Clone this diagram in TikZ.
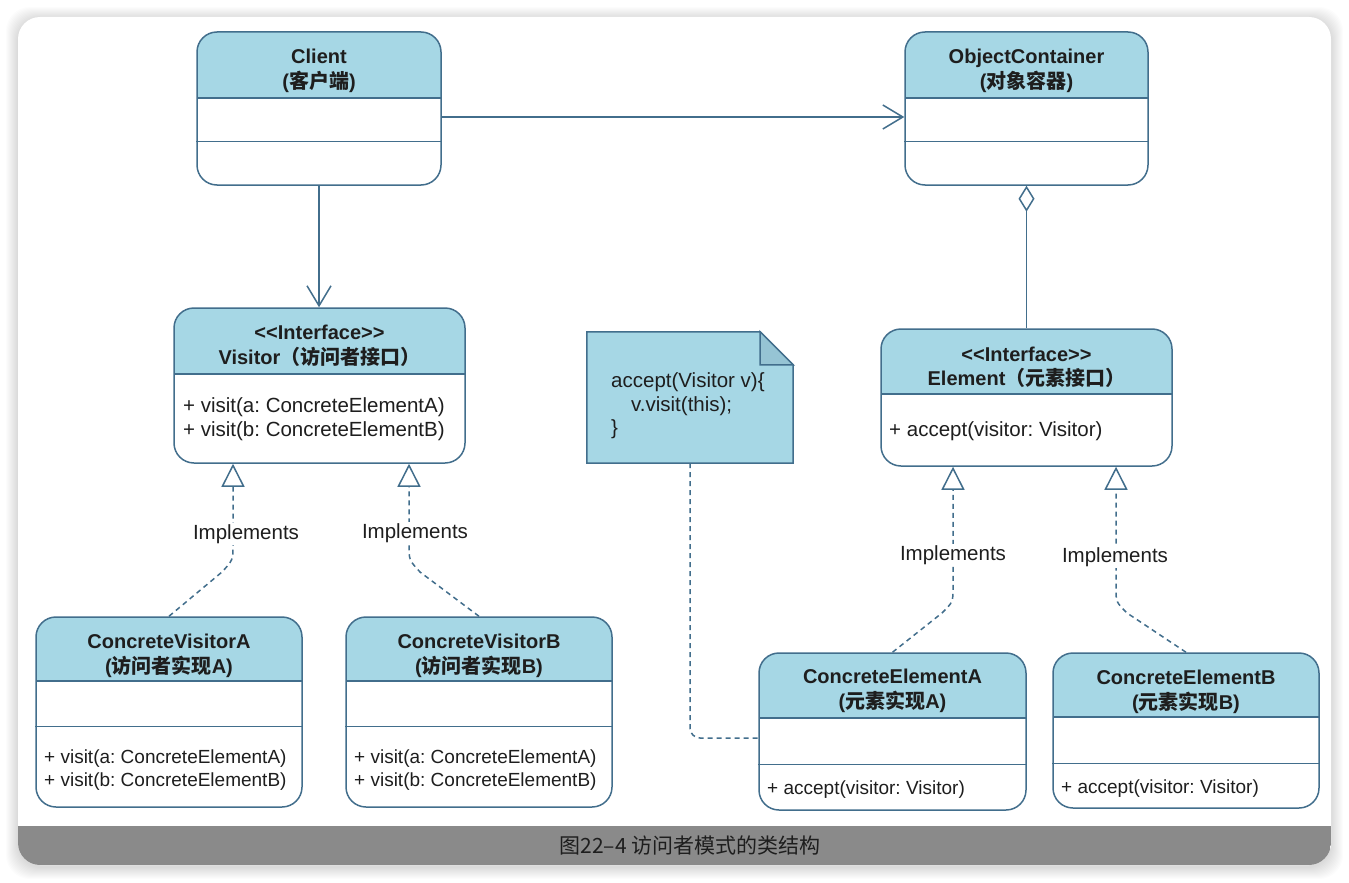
\documentclass[tikz,border=0pt]{standalone}
\usepackage{fontspec}
\setmainfont{Liberation Sans}
\newfontfamily\cjk{Noto Sans CJK SC}
\usetikzlibrary{arrows.meta,calc}
\definecolor{lineC}{RGB}{66,110,140}
\definecolor{hdrC}{RGB}{166,215,229}
\definecolor{txtC}{RGB}{30,30,30}
\definecolor{capC}{RGB}{138,138,138}
\definecolor{foldC}{RGB}{150,196,212}
\frenchspacing
\begin{document}
\begin{tikzpicture}[x=1pt,y=-1pt,
  umlbox/.style n args={3}{draw=lineC, line width=1.5pt, rounded corners=20pt, fill=white,
    minimum width=#1pt, minimum height=#2pt, inner sep=0pt,
    path picture={\fill[hdrC, sharp corners] (path picture bounding box.north west) rectangle ([yshift=-#3pt]path picture bounding box.north east);
      \draw[lineC, line width=1.5pt, sharp corners] ([yshift=-#3pt]path picture bounding box.north west) -- ([yshift=-#3pt]path picture bounding box.north east);}},
  divline/.style={draw=lineC, line width=1.5pt},
  title/.style={font=\fontsize{20}{24.5}\selectfont\bfseries, align=center, text=txtC, inner sep=0pt},
  body/.style={font=\fontsize{20.5}{24}\selectfont, align=left, anchor=west, text=txtC, inner sep=0pt},
  bodys/.style={font=\fontsize{19}{23}\selectfont, align=left, anchor=west, text=txtC, inner sep=0pt},
  lbl/.style={font=\fontsize{20.5}{24}\selectfont, text=txtC, fill=white, inner sep=1pt},
  assoc/.style={draw=lineC, line width=1.5pt, -{Straight Barb[length=20pt,width=24pt,line width=1.5pt]}},
  aggr/.style={draw=lineC, line width=1.5pt, {Diamond[open,length=26pt,width=16pt,fill=white,line width=1.5pt]}-},
  impl/.style={draw=lineC, line width=1.5pt, dash pattern=on 5pt off 4pt, -{Triangle[open,length=23pt,width=23pt,fill=white,line width=1.5pt]}},
  dep/.style={draw=lineC, line width=1.5pt, dash pattern=on 5pt off 4pt, rounded corners=10pt}
]
\useasboundingbox (0,0) rectangle (1349,883);
\fill[white] (0,0) rectangle (1349,883);
% card shadow
\foreach \i in {1,...,12}{
  \fill[black, opacity=0.012, rounded corners=24pt] (18-\i,19-\i) rectangle (1331+\i,867+\i);
}
\fill[white, rounded corners=22pt] (18,17) rectangle (1331,865);
\begin{scope}
  \clip[rounded corners=22pt] (18,17) rectangle (1331,865);
  \fill[capC] (18,826) rectangle (1331,865);
\end{scope}
\node[font=\cjk\fontsize{21}{24}\selectfont, text=txtC] (caption) at (690,845) {图22–4 访问者模式的类结构};

% boxes
\node[umlbox={244}{153}{66}] (client) at (319,108.5) {};
\draw[divline] ([yshift=-110pt]client.north west) -- ([yshift=-110pt]client.north east);
\node[title] (clientT) at (319,71) {Client\\({\cjk\bfseries 客户端})};

\node[umlbox={243}{153}{66}] (oc) at (1026.5,108.5) {};
\draw[divline] ([yshift=-110pt]oc.north west) -- ([yshift=-110pt]oc.north east);
\node[title] (ocT) at (1026.5,71) {ObjectContainer\\({\cjk\bfseries 对象容器})};

\node[umlbox={291}{155}{66}] (visitor) at (319.5,385.5) {};
\node[title] (visitorT) at (319.5,346) {<{}<Interface>{}>\\Visitor{\cjk\bfseries （访问者接口）}};
\node[body] (visitorM) at (183,419) {+ visit(a: ConcreteElementA)\\+ visit(b: ConcreteElementB)};

\node[umlbox={291}{137}{65}] (element) at (1026.5,397.5) {};
\node[title] (elementT) at (1026.5,367.5) {<{}<Interface>{}>\\Element{\cjk\bfseries （元素接口）}};
\node[body] (elementM) at (889,431) {+ accept(visitor: Visitor)};

\node[umlbox={266}{190}{64}] (va) at (169,712) {};
\draw[divline] ([yshift=-110pt]va.north west) -- ([yshift=-110pt]va.north east);
\node[title] (vaT) at (169,656) {ConcreteVisitorA\\({\cjk\bfseries 访问者实现}A)};
\node[bodys] (vaM) at (44,770) {+ visit(a: ConcreteElementA)\\+ visit(b: ConcreteElementB)};

\node[umlbox={266}{190}{64}] (vb) at (479,712) {};
\draw[divline] ([yshift=-110pt]vb.north west) -- ([yshift=-110pt]vb.north east);
\node[title] (vbT) at (479,656) {ConcreteVisitorB\\({\cjk\bfseries 访问者实现}B)};
\node[bodys] (vbM) at (354,770) {+ visit(a: ConcreteElementA)\\+ visit(b: ConcreteElementB)};

\node[umlbox={267}{157}{65}] (cea) at (892.5,731.5) {};
\draw[divline] ([yshift=-112pt]cea.north west) -- ([yshift=-112pt]cea.north east);
\node[title] (ceaT) at (892.5,691) {ConcreteElementA\\({\cjk\bfseries 元素实现}A)};
\node[bodys] (ceaM) at (767,790) {+ accept(visitor: Visitor)};

\node[umlbox={266}{155}{64}] (ceb) at (1186,730.5) {};
\draw[divline] ([yshift=-111pt]ceb.north west) -- ([yshift=-111pt]ceb.north east);
\node[title] (cebT) at (1186,692) {ConcreteElementB\\({\cjk\bfseries 元素实现}B)};
\node[bodys] (cebM) at (1061,789) {+ accept(visitor: Visitor)};

% note
\node[minimum width=206pt, minimum height=131pt, inner sep=0pt] (note) at (690,397.5) {};
\draw[lineC, line width=1.5pt, fill=hdrC] (note.north west) -- ([xshift=-33pt]note.north east) -- ([yshift=-33pt]note.north east) -- (note.south east) -- (note.south west) -- cycle;
\draw[lineC, line width=1.5pt, fill=foldC] ([xshift=-33pt]note.north east) -- ([xshift=-33pt,yshift=-33pt]note.north east) -- ([yshift=-33pt]note.north east) -- cycle;
\node[font=\fontsize{20.5}{23.5}\selectfont, align=left, anchor=west, text=txtC, inner sep=0pt] (noteT) at (611,406) {accept(Visitor v)\{\\\hspace*{20pt}v.visit(this);\\\}};

% connectors
\draw[assoc] ([yshift=-8.5pt]client.east) -- ([yshift=-8.5pt]oc.west);
\draw[assoc] (client.south) -- (client.south |- visitor.north);
\draw[aggr] (oc.south) -- (element.north);
\draw[dep] (note.south) |- ([yshift=-6.5pt]cea.west);

\coordinate (vaK) at (222,572);
\draw[impl] (va.north) -- (vaK) .. controls (233,560) .. (233,545) -- ([xshift=-86.5pt]visitor.south);
\coordinate (vbK) at (420,572);
\draw[impl] (vb.north) -- (vbK) .. controls (409,560) .. (409,545) -- ([xshift=89.5pt]visitor.south);
\coordinate (ceaK) at (942,613);
\draw[impl] (cea.north) -- (ceaK) .. controls (953,602) .. (953,588) -- ([xshift=-73.5pt]element.south);
\coordinate (cebK) at (1127,613);
\draw[impl] (ceb.north) -- (cebK) .. controls (1116,602) .. (1116,588) -- ([xshift=89.5pt]element.south);

\node[lbl] (l1) at (246,534) {Implements};
\node[lbl] (l2) at (415,533) {Implements};
\node[lbl] (l3) at (953,555) {Implements};
\node[lbl] (l4) at (1115,557) {Implements};
\end{tikzpicture}
\end{document}
